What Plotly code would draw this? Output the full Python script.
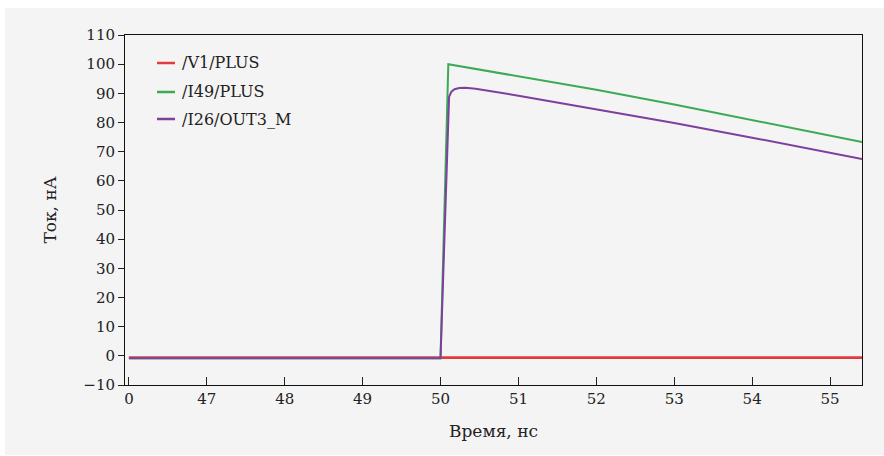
import plotly.graph_objects as go

# Time axis: the first tick is labelled "0" and sits one division before 47 ns (broken axis)
tick_vals = [46, 47, 48, 49, 50, 51, 52, 53, 54, 55]
tick_text = ["0", "47", "48", "49", "50", "51", "52", "53", "54", "55"]

# /V1/PLUS
v1_t = [46.0, 50.0, 55.41]
v1_i = [-0.6, -0.6, -0.6]

# /I49/PLUS
i49_t = [46.0, 50.0, 50.1, 51.0, 52.0, 53.0, 54.0, 55.0, 55.41]
i49_i = [-0.8, -0.8, 100.0, 95.9, 91.2, 86.2, 80.9, 75.4, 73.3]

# /I26/OUT3_M
i26_t = [46.0, 50.0, 50.11, 50.14, 50.18, 50.24, 50.32, 50.45, 51.0, 52.0, 53.0, 54.0, 55.0, 55.41]
i26_i = [-0.8, -0.8, 88.8, 90.6, 91.4, 91.8, 91.9, 91.6, 89.2, 84.6, 79.8, 74.8, 69.6, 67.5]

names = ["/V1/PLUS", "/I49/PLUS", "/I26/OUT3_M"]
colors = ["#e33a3c", "#3aaa55", "#7e3f9d"]

FONT = "DejaVu Serif"
BG = "#f4f4f4"

fig = go.Figure()
fig.add_trace(go.Scatter(x=v1_t, y=v1_i, mode="lines", name=names[0],
                         line=dict(color=colors[0], width=2.6), showlegend=False))
fig.add_trace(go.Scatter(x=i49_t, y=i49_i, mode="lines", name=names[1],
                         line=dict(color=colors[1], width=2), showlegend=False))
fig.add_trace(go.Scatter(x=i26_t, y=i26_i, mode="lines", name=names[2],
                         line=dict(color=colors[2], width=2), showlegend=False))

# plot area in pixels: x 125..862, y 35..385
L, R, T, B = 125, 862, 35, 385
W, H = R - L, B - T


def px(x):
    return (x - L) / W


def py(y):
    return (B - y) / H


shapes = [
    # light grey panel behind the whole chart
    dict(type="rect", xref="paper", yref="paper", x0=px(5), x1=px(884), y0=py(455), y1=py(8),
         fillcolor=BG, line=dict(width=0), layer="below"),
]
annotations = []

# legend in the upper-left corner of the plot
legend_rows = [63, 92, 119]
for name, col, yy in zip(names, colors, legend_rows):
    shapes.append(dict(type="line", xref="paper", yref="paper", x0=px(157), x1=px(175),
                       y0=py(yy), y1=py(yy), line=dict(color=col, width=2.5)))
    annotations.append(dict(xref="paper", yref="paper", x=px(180), y=py(yy), text=name,
                            showarrow=False, xanchor="left", yanchor="middle",
                            font=dict(family=FONT, size=16, color="#222")))

fig.update_layout(
    width=884, height=456,
    margin=dict(l=L, r=884 - R, t=T, b=456 - B),
    paper_bgcolor="white",
    plot_bgcolor=BG,
    font=dict(family=FONT, size=15, color="#222"),
    shapes=shapes,
    annotations=annotations,
    showlegend=False,
)
fig.update_xaxes(
    range=[45.95, 55.41],
    tickvals=tick_vals, ticktext=tick_text,
    ticks="inside", ticklen=8, tickcolor="#222", tickwidth=1,
    showline=True, linecolor="#111", linewidth=1, mirror=True,
    showgrid=False, zeroline=False,
    title=dict(text="Время, нс", font=dict(family=FONT, size=17), standoff=18),
    tickfont=dict(family=FONT, size=15),
)
fig.update_yaxes(
    range=[-10, 110],
    tickvals=list(range(-10, 111, 10)),
    ticktext=["\u221210"] + [str(v) for v in range(0, 111, 10)],
    ticks="outside", ticklen=6, tickcolor="#222", tickwidth=1,
    showline=True, linecolor="#111", linewidth=1, mirror=True,
    showgrid=False, zeroline=False,
    title=dict(text="Ток, нА", font=dict(family=FONT, size=17), standoff=22),
    tickfont=dict(family=FONT, size=15),
)

fig.write_html("out.html")
